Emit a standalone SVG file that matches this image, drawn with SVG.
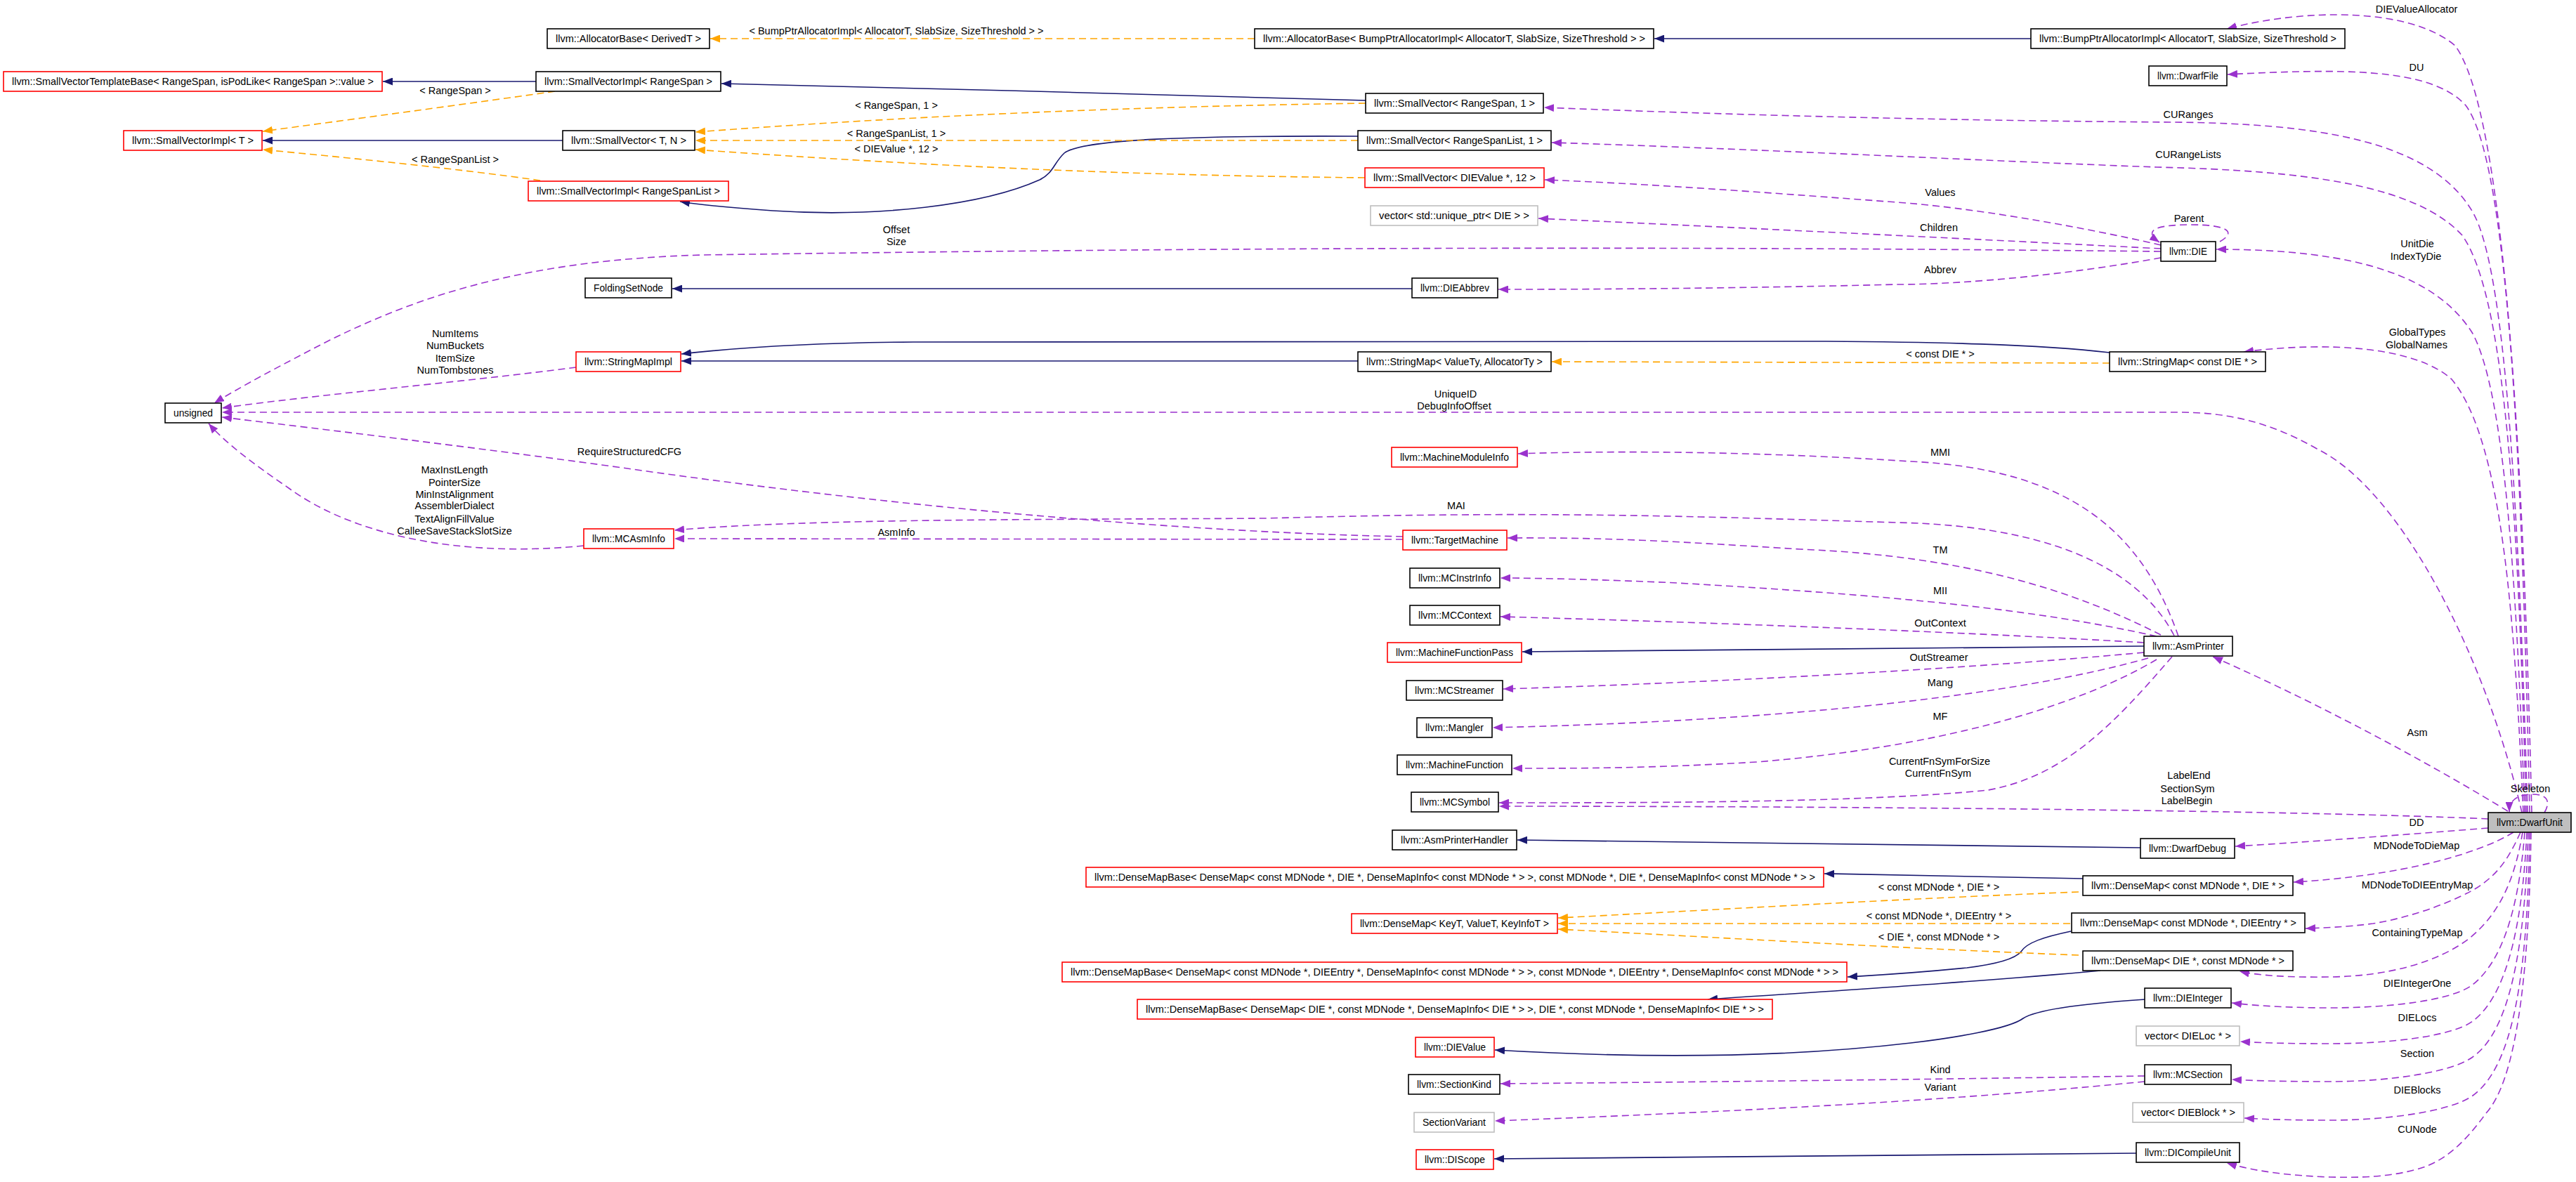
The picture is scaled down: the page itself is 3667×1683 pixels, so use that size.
<svg xmlns="http://www.w3.org/2000/svg" width="3667" height="1683" viewBox="0 0 3667 1683">
<style>
.bk{fill:#ffffff;stroke:#000000;stroke-width:1.6}
.rd{fill:#ffffff;stroke:#ff0000;stroke-width:1.6}
.gy{fill:#ffffff;stroke:#bfbfbf;stroke-width:1.6}
.self{fill:#bfbfbf;stroke:#000000;stroke-width:1.6}
text{font-family:"Liberation Sans",Arial,Helvetica,sans-serif;font-size:14.5px;fill:#000000;text-anchor:middle}
.inh{fill:none;stroke:#191970;stroke-width:1.6;marker-end:url(#an)}
.tpl{fill:none;stroke:#ffa500;stroke-width:1.6;stroke-dasharray:10,6;marker-end:url(#ao)}
.use{fill:none;stroke:#9a32cd;stroke-width:1.6;stroke-dasharray:10,6;marker-end:url(#ap)}
</style>
<defs>
<marker id="an" markerUnits="userSpaceOnUse" markerWidth="15" markerHeight="11" refX="14" refY="5.5" orient="auto"><path d="M0,0 L14,5.5 L0,11 z" fill="#191970"/></marker>
<marker id="ao" markerUnits="userSpaceOnUse" markerWidth="15" markerHeight="11" refX="14" refY="5.5" orient="auto"><path d="M0,0 L14,5.5 L0,11 z" fill="#ffa500"/></marker>
<marker id="ap" markerUnits="userSpaceOnUse" markerWidth="15" markerHeight="11" refX="14" refY="5.5" orient="auto"><path d="M0,0 L14,5.5 L0,11 z" fill="#9a32cd"/></marker>
</defs>
<rect x="0" y="0" width="3667" height="1683" fill="#ffffff"/>

<g id="connectors">
<path class="inh" d="M2891,55 L2355,55"/>
<path class="inh" d="M1944,143 C1700,136 1300,125 1027,119"/>
<path class="inh" d="M763,116 L545,116"/>
<path class="inh" d="M801,200 L374,200"/>
<path class="inh" d="M1933,194 C1700,193 1540,198 1515,218 C1500,232 1500,246 1480,256 C1400,292 1250,310 1100,300 C1040,296 1000,292 968,287"/>
<path class="inh" d="M2010,411 L957,411"/>
<path class="inh" d="M1933,514 L970,514"/>
<path class="inh" d="M3003,502 C2900,490 2750,487 2600,486 L1300,487 C1150,488 1050,495 970,504"/>
<path class="inh" d="M3052,920 C2700,923 2400,926 2167,928"/>
<path class="inh" d="M3047,1207 C2700,1204 2400,1199 2160,1196"/>
<path class="inh" d="M2965,1251 C2800,1247 2700,1245 2597,1244"/>
<path class="inh" d="M2948,1326 C2910,1334 2885,1342 2877,1355 C2868,1366 2840,1373 2800,1378 C2720,1386 2680,1388 2630,1391"/>
<path class="inh" d="M2990,1382 C2850,1395 2700,1405 2431,1423"/>
<path class="inh" d="M3053,1423 C2950,1430 2895,1440 2880,1450 C2860,1465 2780,1478 2720,1485 C2550,1505 2350,1508 2128,1495"/>
<path class="inh" d="M3041,1642 C2700,1644 2400,1648 2127,1650"/>

<path class="tpl" d="M1786,55 L1011,55"/>
<path class="tpl" d="M790,130 C650,150 500,170 374,187"/>
<path class="tpl" d="M769,257 C650,240 500,225 374,213"/>
<path class="tpl" d="M1944,147 C1600,152 1300,165 990,188"/>
<path class="tpl" d="M1933,200 L990,200"/>
<path class="tpl" d="M1943,253 C1600,250 1300,235 990,213"/>
<path class="tpl" d="M3003,517 L2209,515"/>
<path class="tpl" d="M2959,1270 C2700,1280 2450,1295 2218,1307"/>
<path class="tpl" d="M2947,1315 L2218,1315"/>
<path class="tpl" d="M2959,1360 C2700,1350 2450,1335 2218,1323"/>

<path class="use" d="M3604,1157 C3592,650 3565,160 3495,65 C3430,10 3280,12 3170,41"/>
<path class="use" d="M3601,1157 C3590,650 3570,230 3510,150 C3460,95 3330,98 3171,106"/>
<path class="use" d="M3598,1157 C3585,700 3565,380 3520,302 C3460,200 3300,176 3095,174 C2800,172 2500,165 2198,153"/>
<path class="use" d="M3596,1157 C3585,720 3565,420 3505,335 C3440,265 3290,243 3070,238 C2800,228 2500,212 2209,203"/>
<path class="use" d="M3594,1157 C3582,820 3565,560 3520,475 C3470,395 3360,355 3155,355"/>
<path class="use" d="M3592,1157 C3580,900 3565,630 3490,540 C3440,495 3320,485 3194,501"/>
<path class="use" d="M3590,1157 C3540,940 3420,700 3300,640 C3230,600 3170,587 3100,587 L316,587"/>
<path class="use" d="M3570,1155 C3480,1100 3320,1010 3150,935"/>
<path class="use" d="M3542,1166 C3300,1155 2700,1148 2134,1148"/>
<path class="use" d="M3092,935 C3010,1030 2940,1105 2830,1125 C2650,1143 2350,1143 2134,1143"/>
<path class="use" d="M3542,1179 C3440,1187 3300,1198 3182,1205"/>
<path class="use" d="M3578,1185 C3530,1215 3420,1247 3265,1256"/>
<path class="use" d="M3588,1185 C3570,1225 3555,1245 3526,1264 C3500,1280 3440,1305 3378,1315 C3340,1320 3310,1321 3282,1322"/>
<path class="use" d="M3591,1185 C3580,1250 3560,1300 3514,1337 C3470,1370 3400,1390 3317,1391 C3260,1392 3215,1389 3188,1383"/>
<path class="use" d="M3594,1185 C3585,1300 3560,1370 3520,1402 C3490,1425 3400,1435 3317,1435 C3260,1435 3210,1432 3177,1428"/>
<path class="use" d="M3597,1185 C3590,1330 3565,1420 3520,1454 C3490,1476 3400,1486 3317,1486 C3260,1486 3220,1485 3189,1483"/>
<path class="use" d="M3599,1185 C3594,1360 3570,1470 3520,1505 C3490,1527 3400,1540 3317,1540 C3260,1540 3210,1539 3177,1537"/>
<path class="use" d="M3601,1185 C3598,1400 3575,1520 3520,1560 C3490,1582 3400,1595 3317,1595 C3270,1595 3225,1594 3195,1592"/>
<path class="use" d="M3603,1185 C3600,1400 3580,1540 3539,1585 C3510,1625 3480,1655 3440,1665 C3400,1676 3360,1677 3317,1676 C3260,1674 3210,1668 3170,1656"/>
<path class="use" d="M3622,1157 C3632,1140 3625,1131 3605,1131 C3585,1131 3572,1138 3572,1156"/>
<path class="use" d="M3095,905 C3040,800 2900,748 2700,744 C2400,735 2200,727 1800,738 C1500,740 1150,738 960,755"/>
<path class="use" d="M3101,906 C3050,760 2950,668 2720,657 C2550,646 2350,640 2161,646"/>
<path class="use" d="M3076,904 C2950,840 2800,792 2563,782 C2400,772 2300,765 2146,766"/>
<path class="use" d="M3070,906 C2900,868 2700,848 2387,830 C2300,826 2200,823 2136,823"/>
<path class="use" d="M3052,915 C2850,903 2500,888 2136,878"/>
<path class="use" d="M3052,929 C2850,948 2500,970 2140,981"/>
<path class="use" d="M3058,937 C2900,982 2600,1025 2125,1036"/>
<path class="use" d="M3070,939 C2950,1010 2750,1065 2500,1085 C2350,1094 2250,1094 2153,1094"/>
<path class="use" d="M1997,764 C1700,758 1300,725 900,668 C700,640 450,610 316,594"/>
<path class="use" d="M1997,768 L960,767"/>
<path class="use" d="M831,777 C650,795 500,760 411,695 C360,660 320,630 297,603"/>
<path class="use" d="M820,523 C650,545 450,562 316,581"/>
<path class="use" d="M3076,358 C2500,352 1900,350 1000,363 C750,370 600,420 470,484 C400,520 340,552 305,574"/>
<path class="use" d="M3076,349 C2950,320 2800,295 2700,288 C2500,273 2350,262 2199,256"/>
<path class="use" d="M3076,354 C2900,345 2600,330 2190,311"/>
<path class="use" d="M3076,367 C2950,390 2800,405 2700,405 C2500,410 2300,412 2133,412"/>
<path class="use" d="M3160,344 C3185,330 3170,320 3119,320 C3068,320 3050,328 3074,345"/>
<path class="use" d="M3053,1532 C2800,1536 2500,1540 2136,1543"/>
<path class="use" d="M3053,1540 C2850,1560 2600,1578 2128,1596"/>

<text x="1276" y="49">&lt; BumpPtrAllocatorImpl&lt; AllocatorT, SlabSize, SizeThreshold &gt; &gt;</text>
<text x="648" y="134">&lt; RangeSpan &gt;</text>
<text x="648" y="232">&lt; RangeSpanList &gt;</text>
<text x="1276" y="155">&lt; RangeSpan, 1 &gt;</text>
<text x="1276" y="195">&lt; RangeSpanList, 1 &gt;</text>
<text x="1276" y="217">&lt; DIEValue *, 12 &gt;</text>
<text x="1276" y="332">Offset</text>
<text x="1276" y="349">Size</text>
<text x="648" y="480">NumItems</text>
<text x="648" y="497">NumBuckets</text>
<text x="648" y="515">ItemSize</text>
<text x="648" y="532">NumTombstones</text>
<text x="2762" y="509">&lt; const DIE * &gt;</text>
<text x="2072" y="566">UniqueID</text>
<text x="2070" y="583">DebugInfoOffset</text>
<text x="896" y="648">RequireStructuredCFG</text>
<text x="647" y="674">MaxInstLength</text>
<text x="647" y="692">PointerSize</text>
<text x="647" y="709">MinInstAlignment</text>
<text x="647" y="725">AssemblerDialect</text>
<text x="647" y="744">TextAlignFillValue</text>
<text x="647" y="761">CalleeSaveStackSlotSize</text>
<text x="2073" y="725">MAI</text>
<text x="1276" y="763">AsmInfo</text>
<text x="2762" y="649">MMI</text>
<text x="2762" y="788">TM</text>
<text x="2762" y="846">MII</text>
<text x="2762" y="892">OutContext</text>
<text x="2760" y="941">OutStreamer</text>
<text x="2762" y="977">Mang</text>
<text x="2762" y="1025">MF</text>
<text x="2761" y="1089">CurrentFnSymForSize</text>
<text x="2759" y="1106">CurrentFnSym</text>
<text x="3441" y="1048">Asm</text>
<text x="3116" y="1109">LabelEnd</text>
<text x="3114" y="1128">SectionSym</text>
<text x="3113" y="1145">LabelBegin</text>
<text x="3602" y="1128">Skeleton</text>
<text x="3440" y="1176">DD</text>
<text x="3440" y="1209">MDNodeToDieMap</text>
<text x="2760" y="1268">&lt; const MDNode *, DIE * &gt;</text>
<text x="2760" y="1309">&lt; const MDNode *, DIEEntry * &gt;</text>
<text x="2760" y="1339">&lt; DIE *, const MDNode * &gt;</text>
<text x="3441" y="1265">MDNodeToDIEEntryMap</text>
<text x="3441" y="1333">ContainingTypeMap</text>
<text x="3441" y="1405">DIEIntegerOne</text>
<text x="3441" y="1454">DIELocs</text>
<text x="2762" y="1528">Kind</text>
<text x="3441" y="1505">Section</text>
<text x="2762" y="1553">Variant</text>
<text x="3441" y="1557">DIEBlocks</text>
<text x="3441" y="1613">CUNode</text>
<text x="3440" y="18">DIEValueAllocator</text>
<text x="3440" y="101">DU</text>
<text x="3115" y="168">CURanges</text>
<text x="3115" y="225">CURangeLists</text>
<text x="2762" y="279">Values</text>
<text x="2760" y="329">Children</text>
<text x="3116" y="316">Parent</text>
<text x="2762" y="389">Abbrev</text>
<text x="3441" y="352">UnitDie</text>
<text x="3439" y="370">IndexTyDie</text>
<text x="3441" y="478">GlobalTypes</text>
<text x="3440" y="496">GlobalNames</text>
</g>

<g id="n_allocbase"><rect class="bk" x="779" y="41" width="231" height="28"/><text x="894.5" y="60" textLength="207" lengthAdjust="spacingAndGlyphs">llvm::AllocatorBase&lt; DerivedT &gt;</text></g>
<g id="n_allocbump"><rect class="bk" x="1786" y="41" width="568" height="28"/><text x="2070" y="60" textLength="544" lengthAdjust="spacingAndGlyphs">llvm::AllocatorBase&lt; BumpPtrAllocatorImpl&lt; AllocatorT, SlabSize, SizeThreshold &gt; &gt;</text></g>
<g id="n_bumpptr"><rect class="bk" x="2891" y="41" width="447" height="28"/><text x="3114.5" y="60" textLength="423" lengthAdjust="spacingAndGlyphs">llvm::BumpPtrAllocatorImpl&lt; AllocatorT, SlabSize, SizeThreshold &gt;</text></g>
<g id="n_dwarffile"><rect class="bk" x="3059" y="94" width="111" height="28"/><text x="3114.5" y="113" textLength="87" lengthAdjust="spacingAndGlyphs">llvm::DwarfFile</text></g>
<g id="n_svtb"><rect class="rd" x="5" y="102" width="539" height="28"/><text x="274.5" y="121" textLength="515" lengthAdjust="spacingAndGlyphs">llvm::SmallVectorTemplateBase&lt; RangeSpan, isPodLike&lt; RangeSpan &gt;::value &gt;</text></g>
<g id="n_sviRS"><rect class="bk" x="763" y="102" width="263" height="28"/><text x="894.5" y="121" textLength="239" lengthAdjust="spacingAndGlyphs">llvm::SmallVectorImpl&lt; RangeSpan &gt;</text></g>
<g id="n_svRS1"><rect class="bk" x="1944" y="133" width="253" height="28"/><text x="2070.5" y="152" textLength="229" lengthAdjust="spacingAndGlyphs">llvm::SmallVector&lt; RangeSpan, 1 &gt;</text></g>
<g id="n_sviT"><rect class="rd" x="176" y="186" width="197" height="28"/><text x="274.5" y="205" textLength="173" lengthAdjust="spacingAndGlyphs">llvm::SmallVectorImpl&lt; T &gt;</text></g>
<g id="n_svTN"><rect class="bk" x="801" y="186" width="188" height="28"/><text x="895" y="205" textLength="164" lengthAdjust="spacingAndGlyphs">llvm::SmallVector&lt; T, N &gt;</text></g>
<g id="n_svRSL1"><rect class="bk" x="1933" y="186" width="275" height="28"/><text x="2070.5" y="205" textLength="251" lengthAdjust="spacingAndGlyphs">llvm::SmallVector&lt; RangeSpanList, 1 &gt;</text></g>
<g id="n_svDV12"><rect class="rd" x="1943" y="239" width="255" height="28"/><text x="2070.5" y="258" textLength="231" lengthAdjust="spacingAndGlyphs">llvm::SmallVector&lt; DIEValue *, 12 &gt;</text></g>
<g id="n_sviRSL"><rect class="rd" x="752" y="258" width="285" height="28"/><text x="894.5" y="277" textLength="261" lengthAdjust="spacingAndGlyphs">llvm::SmallVectorImpl&lt; RangeSpanList &gt;</text></g>
<g id="n_vecDIE"><rect class="gy" x="1951" y="293" width="238" height="28"/><text x="2070" y="312" textLength="214" lengthAdjust="spacingAndGlyphs">vector&lt; std::unique_ptr&lt; DIE &gt; &gt;</text></g>
<g id="n_die"><rect class="bk" x="3076" y="344" width="78" height="28"/><text x="3115" y="363" textLength="54" lengthAdjust="spacingAndGlyphs">llvm::DIE</text></g>
<g id="n_fsn"><rect class="bk" x="833" y="396" width="123" height="28"/><text x="894.5" y="415" textLength="99" lengthAdjust="spacingAndGlyphs">FoldingSetNode</text></g>
<g id="n_abbrev"><rect class="bk" x="2010" y="396" width="122" height="28"/><text x="2071" y="415" textLength="98" lengthAdjust="spacingAndGlyphs">llvm::DIEAbbrev</text></g>
<g id="n_smi"><rect class="rd" x="820" y="501" width="149" height="28"/><text x="894.5" y="520" textLength="125" lengthAdjust="spacingAndGlyphs">llvm::StringMapImpl</text></g>
<g id="n_smVA"><rect class="bk" x="1933" y="501" width="275" height="28"/><text x="2070.5" y="520" textLength="251" lengthAdjust="spacingAndGlyphs">llvm::StringMap&lt; ValueTy, AllocatorTy &gt;</text></g>
<g id="n_smDIE"><rect class="bk" x="3003" y="501" width="222" height="28"/><text x="3114" y="520" textLength="198" lengthAdjust="spacingAndGlyphs">llvm::StringMap&lt; const DIE * &gt;</text></g>
<g id="n_unsigned"><rect class="bk" x="235" y="574" width="80" height="28"/><text x="275" y="593" textLength="56" lengthAdjust="spacingAndGlyphs">unsigned</text></g>
<g id="n_mmi"><rect class="rd" x="1981" y="637" width="179" height="28"/><text x="2070.5" y="656" textLength="155" lengthAdjust="spacingAndGlyphs">llvm::MachineModuleInfo</text></g>
<g id="n_mcai"><rect class="rd" x="831" y="753" width="128" height="28"/><text x="895" y="772" textLength="104" lengthAdjust="spacingAndGlyphs">llvm::MCAsmInfo</text></g>
<g id="n_tm"><rect class="rd" x="1997" y="755" width="148" height="28"/><text x="2071" y="774" textLength="124" lengthAdjust="spacingAndGlyphs">llvm::TargetMachine</text></g>
<g id="n_mcii"><rect class="bk" x="2007" y="809" width="128" height="28"/><text x="2071" y="828" textLength="104" lengthAdjust="spacingAndGlyphs">llvm::MCInstrInfo</text></g>
<g id="n_mcctx"><rect class="bk" x="2007" y="862" width="128" height="28"/><text x="2071" y="881" textLength="104" lengthAdjust="spacingAndGlyphs">llvm::MCContext</text></g>
<g id="n_asmp"><rect class="bk" x="3052" y="906" width="126" height="28"/><text x="3115" y="925" textLength="102" lengthAdjust="spacingAndGlyphs">llvm::AsmPrinter</text></g>
<g id="n_mfp"><rect class="rd" x="1975" y="915" width="191" height="28"/><text x="2070.5" y="934" textLength="167" lengthAdjust="spacingAndGlyphs">llvm::MachineFunctionPass</text></g>
<g id="n_mcs"><rect class="bk" x="2002" y="969" width="137" height="28"/><text x="2070.5" y="988" textLength="113" lengthAdjust="spacingAndGlyphs">llvm::MCStreamer</text></g>
<g id="n_mang"><rect class="bk" x="2017" y="1022" width="107" height="28"/><text x="2070.5" y="1041" textLength="83" lengthAdjust="spacingAndGlyphs">llvm::Mangler</text></g>
<g id="n_mf"><rect class="bk" x="1989" y="1075" width="163" height="28"/><text x="2070.5" y="1094" textLength="139" lengthAdjust="spacingAndGlyphs">llvm::MachineFunction</text></g>
<g id="n_mcsym"><rect class="bk" x="2009" y="1128" width="124" height="28"/><text x="2071" y="1147" textLength="100" lengthAdjust="spacingAndGlyphs">llvm::MCSymbol</text></g>
<g id="n_dwarfunit"><rect class="self" x="3542" y="1157" width="118" height="28"/><text x="3601" y="1176" textLength="94" lengthAdjust="spacingAndGlyphs">llvm::DwarfUnit</text></g>
<g id="n_aph"><rect class="bk" x="1982" y="1182" width="177" height="28"/><text x="2070.5" y="1201" textLength="153" lengthAdjust="spacingAndGlyphs">llvm::AsmPrinterHandler</text></g>
<g id="n_dd"><rect class="bk" x="3047" y="1194" width="134" height="28"/><text x="3114" y="1213" textLength="110" lengthAdjust="spacingAndGlyphs">llvm::DwarfDebug</text></g>
<g id="n_dmb1"><rect class="rd" x="1546" y="1235" width="1050" height="28"/><text x="2071" y="1254" textLength="1026" lengthAdjust="spacingAndGlyphs">llvm::DenseMapBase&lt; DenseMap&lt; const MDNode *, DIE *, DenseMapInfo&lt; const MDNode * &gt; &gt;, const MDNode *, DIE *, DenseMapInfo&lt; const MDNode * &gt; &gt;</text></g>
<g id="n_dm1"><rect class="bk" x="2965" y="1247" width="299" height="28"/><text x="3114.5" y="1266" textLength="275" lengthAdjust="spacingAndGlyphs">llvm::DenseMap&lt; const MDNode *, DIE * &gt;</text></g>
<g id="n_dmK"><rect class="rd" x="1924" y="1301" width="293" height="28"/><text x="2070.5" y="1320" textLength="269" lengthAdjust="spacingAndGlyphs">llvm::DenseMap&lt; KeyT, ValueT, KeyInfoT &gt;</text></g>
<g id="n_dm2"><rect class="bk" x="2949" y="1300" width="332" height="28"/><text x="3115" y="1319" textLength="308" lengthAdjust="spacingAndGlyphs">llvm::DenseMap&lt; const MDNode *, DIEEntry * &gt;</text></g>
<g id="n_dmb2"><rect class="rd" x="1512" y="1370" width="1117" height="28"/><text x="2070.5" y="1389" textLength="1093" lengthAdjust="spacingAndGlyphs">llvm::DenseMapBase&lt; DenseMap&lt; const MDNode *, DIEEntry *, DenseMapInfo&lt; const MDNode * &gt; &gt;, const MDNode *, DIEEntry *, DenseMapInfo&lt; const MDNode * &gt; &gt;</text></g>
<g id="n_dm3"><rect class="bk" x="2965" y="1354" width="299" height="28"/><text x="3114.5" y="1373" textLength="275" lengthAdjust="spacingAndGlyphs">llvm::DenseMap&lt; DIE *, const MDNode * &gt;</text></g>
<g id="n_dmb3"><rect class="rd" x="1619" y="1423" width="904" height="28"/><text x="2071" y="1442" textLength="880" lengthAdjust="spacingAndGlyphs">llvm::DenseMapBase&lt; DenseMap&lt; DIE *, const MDNode *, DenseMapInfo&lt; DIE * &gt; &gt;, DIE *, const MDNode *, DenseMapInfo&lt; DIE * &gt; &gt;</text></g>
<g id="n_dieint"><rect class="bk" x="3053" y="1407" width="123" height="28"/><text x="3114.5" y="1426" textLength="99" lengthAdjust="spacingAndGlyphs">llvm::DIEInteger</text></g>
<g id="n_vecloc"><rect class="gy" x="3041" y="1461" width="147" height="28"/><text x="3114.5" y="1480" textLength="123" lengthAdjust="spacingAndGlyphs">vector&lt; DIELoc * &gt;</text></g>
<g id="n_dievalue"><rect class="rd" x="2015" y="1477" width="112" height="28"/><text x="2071" y="1496" textLength="88" lengthAdjust="spacingAndGlyphs">llvm::DIEValue</text></g>
<g id="n_mcsec"><rect class="bk" x="3053" y="1516" width="123" height="28"/><text x="3114.5" y="1535" textLength="99" lengthAdjust="spacingAndGlyphs">llvm::MCSection</text></g>
<g id="n_seckind"><rect class="bk" x="2005" y="1530" width="130" height="28"/><text x="2070" y="1549" textLength="106" lengthAdjust="spacingAndGlyphs">llvm::SectionKind</text></g>
<g id="n_vecblk"><rect class="gy" x="3036" y="1570" width="158" height="28"/><text x="3115" y="1589" textLength="134" lengthAdjust="spacingAndGlyphs">vector&lt; DIEBlock * &gt;</text></g>
<g id="n_secvar"><rect class="gy" x="2013" y="1584" width="114" height="28"/><text x="2070" y="1603" textLength="90" lengthAdjust="spacingAndGlyphs">SectionVariant</text></g>
<g id="n_discope"><rect class="rd" x="2016" y="1637" width="110" height="28"/><text x="2071" y="1656" textLength="86" lengthAdjust="spacingAndGlyphs">llvm::DIScope</text></g>
<g id="n_dicu"><rect class="bk" x="3041" y="1627" width="147" height="28"/><text x="3114.5" y="1646" textLength="123" lengthAdjust="spacingAndGlyphs">llvm::DICompileUnit</text></g>
</svg>
